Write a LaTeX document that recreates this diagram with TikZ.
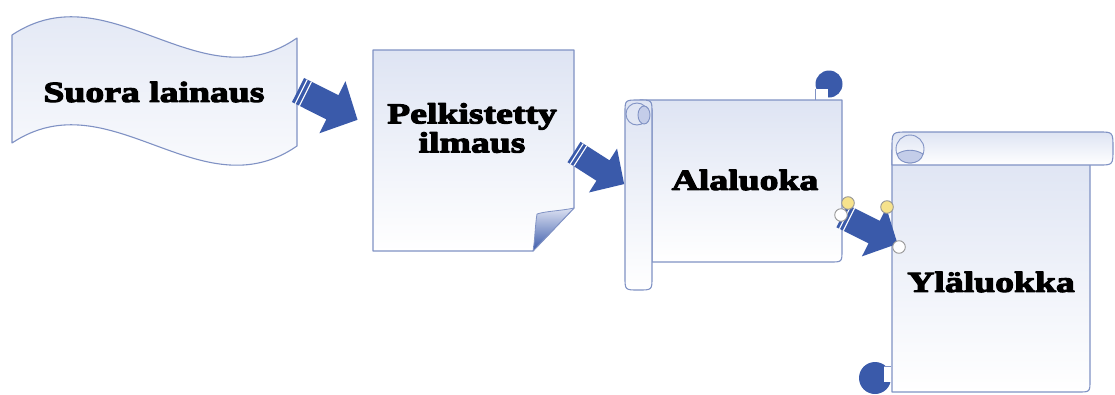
\documentclass[tikz,border=0pt]{standalone}
\usepackage{fontspec}
\newfontfamily\heavy[FakeBold=4,FakeStretch=1.3]{Liberation Serif Bold}
\definecolor{edge}{RGB}{128,146,196}
\definecolor{paper}{RGB}{222,228,243}
\definecolor{curl}{RGB}{196,205,233}
\definecolor{arrowblue}{RGB}{58,90,170}
\definecolor{handley}{RGB}{246,226,140}
\definecolor{handleo}{RGB}{150,150,150}
\tikzset{
  outline/.style={draw=edge, line width=1.1pt},
  sheet/.style={outline, top color=paper, bottom color=white},
  label/.style={font=\heavy\fontsize{29}{29}\selectfont, align=center, inner sep=0pt},
  handle/.style={draw=handleo, line width=0.9pt},
  stripearrow/.pic={
    \fill[arrowblue] (0,-13) -- (37,-13) -- (37,-28) -- (64,0) -- (37,28) -- (37,13) -- (0,13) -- cycle;
    \draw[white, line width=1.1pt] (3.5,-13) -- (3.5,13) (8,-13) -- (8,13);
  }
}
\begin{document}
\begin{tikzpicture}[x=1pt, y=-1pt, line join=round]
\fill[white] (0,0) rectangle (1115,394);
\useasboundingbox (0,0) rectangle (1115,394);

% wavy banner
\path[sheet] (12,35) .. controls (110,-30) and (200,105) .. (297,38)
  -- (297,146) .. controls (200,213) and (110,78) .. (12,143) -- cycle;
\node[label] (suora) at (154,92) {Suora lainaus};

% page with curled corner
\path[sheet] (373,50) -- (574,50) -- (574,208) -- (533,251) -- (373,251) -- cycle;
\path[draw=edge, line width=0.8pt, top color=curl!60!white, bottom color=arrowblue]
  (574,208) .. controls (560,211) and (546,211) .. (537,214)
  .. controls (535,226) and (535,240) .. (533,251) -- cycle;
\node[label] (pelk) at (472,128) {Pelkistetty\\ilmaus};

% horizontal scroll
\path[sheet] (640,100) -- (842,100) -- (842,250) .. controls (842,262) .. (830,262)
  -- (652,262) -- (652,110) -- cycle;
\fill[arrowblue] (829,84) circle[radius=13.5];
\fill[white] (816,89) rectangle (828,99.4);
\draw[outline, line width=0.9pt] (815.5,89) -- (815.5,100);
\path[sheet] (625,113) .. controls (625,100) .. (638.5,100) .. controls (652,100) .. (652,113)
  -- (652,277) .. controls (652,290) .. (638.5,290) .. controls (625,290) .. (625,277) -- cycle;
\draw[outline, line width=0.9pt] (637,114) circle[radius=11];
\path[draw=edge, line width=0.9pt, fill=curl] (644,115) ellipse[x radius=6, y radius=9];
\node[label] (ala) at (745,180) {Alaluoka};

% vertical scroll
\path[sheet] (892,150) -- (892,392) -- (1078,392) .. controls (1090,392) .. (1090,380)
  -- (1090,160) -- cycle;
\path[sheet] (892,165) -- (892,148) .. controls (892,132) .. (908,132) -- (1099,132)
  .. controls (1113,132) .. (1113,148.5) .. controls (1113,165) .. (1099,165) -- cycle;
\draw[outline, line width=0.9pt] (910,149) circle[radius=14];
\path[draw=edge, line width=0.9pt, fill=curl]
  (897,154) .. controls (899,166) and (921,166) .. (923,154)
  .. controls (915,149) and (905,149) .. (897,154) -- cycle;
\fill[arrowblue] (875,378) circle[radius=16];
\fill[white] (884,366) rectangle (891.4,382);
\draw[outline, line width=0.9pt] (884,366) -- (891.4,366);
\node[label] (yla) at (991,282) {Yläluokka};

% block arrows between the stages
\pic[rotate=-26.6, scale=1.04] (a1) at (298,90) {stripearrow};
\pic[rotate=-32.6, scale=0.93] (a2) at (574,152) {stripearrow};
\pic[rotate=-26.6, scale=0.97] (a3) at (842,216) {stripearrow};

% adjustment handles on the last arrow
\draw[handle, fill=handley] (848,203) circle[radius=6.3];
\draw[handle, fill=handley] (887,207) circle[radius=6.3];
\draw[handle, fill=white] (841,215) circle[radius=6.3];
\draw[handle, fill=white] (899,247) circle[radius=6.3];
\end{tikzpicture}
\end{document}
